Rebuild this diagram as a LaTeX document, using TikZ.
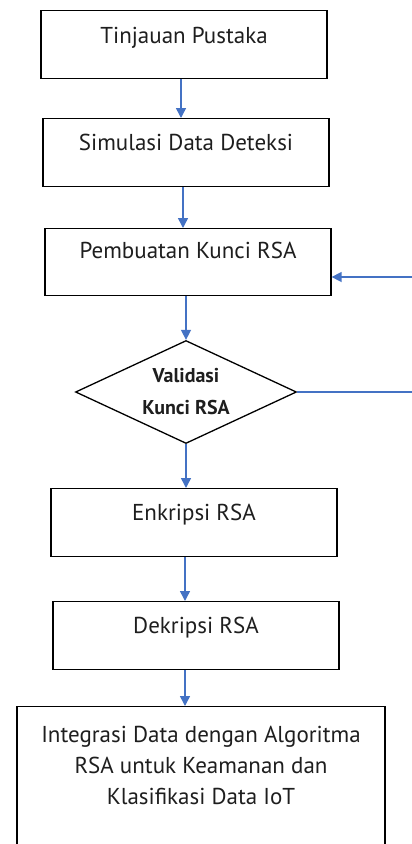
\documentclass[tikz,border=0pt]{standalone}
\usepackage{fontspec}
\setmainfont{PT Sans}
\usetikzlibrary{shapes.geometric,arrows.meta}
\definecolor{arrblue}{RGB}{68,114,196}
\definecolor{txt}{RGB}{30,30,30}
\begin{document}
\begin{tikzpicture}[x=1pt,y=-1pt,
  box/.style={draw=black,line width=1.3pt,rectangle,anchor=north,inner sep=0pt,
    minimum width=286pt,font=\fontsize{23}{31}\selectfont,text=txt},
  plain/.style={inner sep=0pt,align=center,font=\fontsize{23}{31}\selectfont,text=txt},
  arr/.style={draw=arrblue,line width=1.5pt,-{Triangle[length=10pt,width=10pt]}},
  line/.style={draw=arrblue,line width=1.5pt},
  decision/.style={diamond,aspect=2.15,draw=black,line width=1.3pt,inner sep=0pt,
    minimum width=221pt,minimum height=103pt,align=center,
    font=\bfseries\fontsize{20}{32}\selectfont,text=txt}
]
\useasboundingbox (0,0) rectangle (412,844);
\clip (0,0) rectangle (412,844);

\node[box,text height=33pt,text depth=35pt] (b1) at (184,10) {Tinjauan Pustaka};
\node[box,text height=32pt,text depth=36pt] (b2) at (186,118) {Simulasi Data Deteksi};
\node[box,text height=30pt,text depth=37pt] (b3) at (188,228) {Pembuatan Kunci RSA};
\node[decision] (d) at (186,392) {Validasi\\Kunci RSA};
\node[box,text height=32pt,text depth=36pt] (b4) at (194,488) {Enkripsi RSA};
\node[box,text height=32pt,text depth=36pt] (b5) at (196,601) {Dekripsi RSA};
\node[box,minimum width=368pt,minimum height=142pt] (b6) at (201,706) {};
\node[plain,anchor=north] (t6) at (201,726) {Integrasi Data dengan Algoritma\\RSA untuk Keamanan dan\\Klasifikasi Data IoT};

\coordinate (a1) at (181,0);
\coordinate (a2) at (183,0);
\coordinate (a3) at (186,0);
\coordinate (a4) at (185,0);
\coordinate (fb) at (414,277);

\draw[arr] (b1.south -| a1) -- (b2.north -| a1);
\draw[arr] (b2.south -| a2) -- (b3.north -| a2);
\draw[arr] (b3.south -| a3) -- (d.north);
\draw[arr] (d.south) -- (b4.north -| d.south);
\draw[arr] (b4.south -| a4) -- (b5.north -| a4);
\draw[arr] (b5.south -| a4) -- (b6.north -| a4);
\draw[line] (d.east) -- (d.east -| fb) -- (fb);
\draw[arr] (fb) -- (fb -| b3.east);
\end{tikzpicture}
\end{document}
